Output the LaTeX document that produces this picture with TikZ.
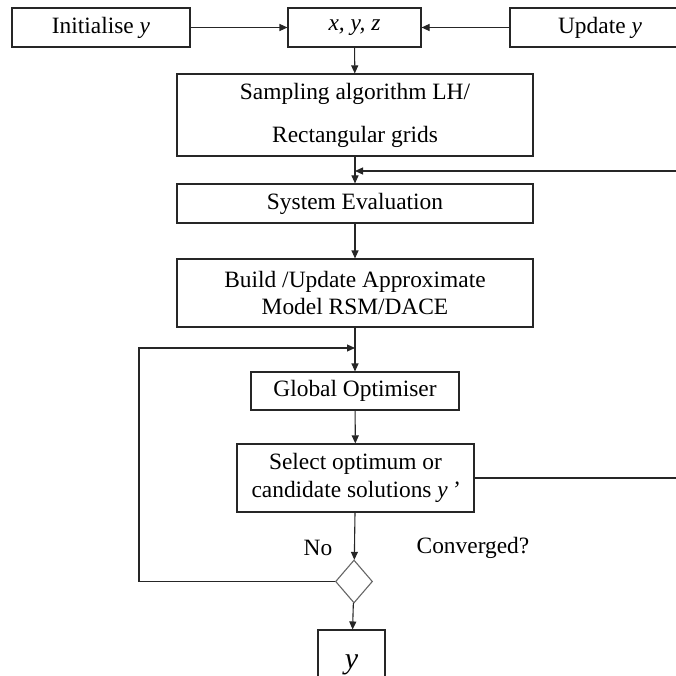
\documentclass[tikz,border=0pt]{standalone}
\usepackage{fontspec}
\setmainfont{Liberation Serif}
\usetikzlibrary{arrows.meta,shapes.geometric}
\begin{document}
\begin{tikzpicture}[x=1pt,y=-1pt,
  box/.style={draw=black!85, line width=1.1pt, inner sep=0pt, align=center,
              font=\fontsize{23.4}{27.5}\selectfont},
  flow/.style={draw=black!85, line width=1.1pt, -{Triangle[length=8pt,width=7pt]}},
  lbl/.style={font=\fontsize{23.4}{27.5}\selectfont, inner sep=0pt}]
\useasboundingbox (0,0) rectangle (676,676);
\clip (0,0) rectangle (676,676);

% top row
\node[box, minimum width=178pt, minimum height=39pt] (init) at (101,27.5) {Initialise \textit{y}};
\node[box, minimum width=133pt, minimum height=39pt] (xyz) at (354.5,27.5) {\textit{x, y, z}};
\node[box, minimum width=180pt, minimum height=39pt] (upd) at (600,27.5) {Update \textit{y}};

% main column
\node[box, minimum width=356pt, minimum height=82pt] (samp) at (355,115)
  {Sampling algorithm LH/\\[15.5pt]Rectangular grids};
\node[box, minimum width=356pt, minimum height=39pt] (eval) at (355,203.5) {System Evaluation};
\node[box, minimum width=356pt, minimum height=68pt] (build) at (355,293)
  {Build /Update Approximate\\Model RSM/DACE};
\node[box, minimum width=208pt, minimum height=38pt] (glob) at (355,391) {Global Optimiser};
\node[box, minimum width=237pt, minimum height=68pt] (sel) at (355.5,478)
  {Select optimum or\\candidate solutions \textit{y\,’}};
\node[diamond, draw=black!60, line width=1.1pt, minimum width=37pt, minimum height=43pt,
      inner sep=0pt] (conv) at (354,581.5) {};
\node[box, minimum width=67pt, minimum height=70pt, font=\fontsize{30}{32}\selectfont]
  (res) at (351.5,665) {\textit{y}};

% labels at the decision
\node[lbl] (no) at (318,548) {No};
\node[lbl] (cq) at (473,548) {Converged?};

% connectors
\coordinate (fb) at (355,171);
\coordinate (lp) at (355,348);
\draw[flow] (init) -- (xyz);
\draw[flow] (upd) -- (xyz);
\draw[flow] (xyz) -- (samp);
\draw[flow] (samp) -- (eval);
\draw[flow] (sel.east) -- ++(230,0) |- (fb);
\draw[flow] (eval) -- (build);
\draw[flow] (build) -- (glob);
\draw[flow] (conv.west) -- (139,581.5) |- (lp);
\draw[flow] (glob) -- (sel);
\draw[flow] (sel) -- (conv);
\draw[flow] (conv) -- (res);
\end{tikzpicture}
\end{document}
